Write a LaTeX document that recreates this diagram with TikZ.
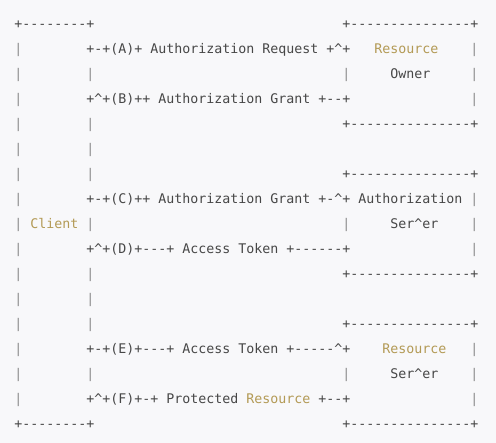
\documentclass[tikz,border=0pt]{standalone}
\usepackage{fontspec}
\newfontfamily\asciimono{DejaVu Sans Mono}
\definecolor{bgc}{HTML}{F8F8FA}
\definecolor{txc}{HTML}{474747}
\definecolor{barc}{HTML}{8C8C8C}
\definecolor{goldc}{HTML}{B39A55}
\newcommand\ca{\textasciicircum}
\tikzset{
  txt/.style={inner sep=0pt, outer sep=0pt, anchor=base west, text=txc, font=\asciimono\fontsize{13.29pt}{16pt}\selectfont},
  bar/.style={txt, text=barc},
  gold/.style={txt, text=goldc}
}
% \seg[style]{name}{col}{row}{text}
\newcommand\seg[5][txt]{\node[#1] (#2) at ({14.3+8*#3},{28.7+25*#4}) {#5};}
\begin{document}
\begin{tikzpicture}[x=1pt,y=-1pt]
\fill[bgc] (0,0) rectangle (496,443);
\useasboundingbox (0,0) rectangle (496,443);
% row 0
\seg{cTop}{0}{0}{+--------+}
\seg{roTop}{41}{0}{+---------------+}
% row 1
\seg[bar]{l1}{0}{1}{|}
\seg{aLine}{9}{1}{+-+(A)+ Authorization Request +\ca+}
\seg[gold]{roName}{45}{1}{Resource}
\seg[bar]{r1}{57}{1}{|}
% row 2
\seg[bar]{l2}{0}{2}{|}
\seg[bar]{m2}{9}{2}{|}
\seg[bar]{n2}{41}{2}{|}
\seg{roOwner}{47}{2}{Owner}
\seg[bar]{r2}{57}{2}{|}
% row 3
\seg[bar]{l3}{0}{3}{|}
\seg{bLine}{9}{3}{+\ca+(B)++ Authorization Grant +--+}
\seg[bar]{r3}{57}{3}{|}
% row 4
\seg[bar]{l4}{0}{4}{|}
\seg[bar]{m4}{9}{4}{|}
\seg{roBot}{41}{4}{+---------------+}
% row 5
\seg[bar]{l5}{0}{5}{|}
\seg[bar]{m5}{9}{5}{|}
% row 6
\seg[bar]{l6}{0}{6}{|}
\seg[bar]{m6}{9}{6}{|}
\seg{asTop}{41}{6}{+---------------+}
% row 7
\seg[bar]{l7}{0}{7}{|}
\seg{cLine}{9}{7}{+-+(C)++ Authorization Grant +-\ca+ Authorization}
\seg[bar]{r7}{57}{7}{|}
% row 8
\seg[bar]{l8}{0}{8}{|}
\seg[gold]{client}{2}{8}{Client}
\seg[bar]{m8}{9}{8}{|}
\seg[bar]{n8}{41}{8}{|}
\seg{asServer}{47}{8}{Ser\ca er}
\seg[bar]{r8}{57}{8}{|}
% row 9
\seg[bar]{l9}{0}{9}{|}
\seg{dLine}{9}{9}{+\ca+(D)+---+ Access Token +------+}
\seg[bar]{r9}{57}{9}{|}
% row 10
\seg[bar]{l10}{0}{10}{|}
\seg[bar]{m10}{9}{10}{|}
\seg{asBot}{41}{10}{+---------------+}
% row 11
\seg[bar]{l11}{0}{11}{|}
\seg[bar]{m11}{9}{11}{|}
% row 12
\seg[bar]{l12}{0}{12}{|}
\seg[bar]{m12}{9}{12}{|}
\seg{rsTop}{41}{12}{+---------------+}
% row 13
\seg[bar]{l13}{0}{13}{|}
\seg{eLine}{9}{13}{+-+(E)+---+ Access Token +-----\ca+}
\seg[gold]{rsName}{46}{13}{Resource}
\seg[bar]{r13}{57}{13}{|}
% row 14
\seg[bar]{l14}{0}{14}{|}
\seg[bar]{m14}{9}{14}{|}
\seg[bar]{n14}{41}{14}{|}
\seg{rsServer}{47}{14}{Ser\ca er}
\seg[bar]{r14}{57}{14}{|}
% row 15
\seg[bar]{l15}{0}{15}{|}
\seg{fLine}{9}{15}{+\ca+(F)+-+ Protected}
\seg[gold]{fRes}{29}{15}{Resource}
\seg{fEnd}{38}{15}{+--+}
\seg[bar]{r15}{57}{15}{|}
% row 16
\seg{cBot}{0}{16}{+--------+}
\seg{rsBot}{41}{16}{+---------------+}
\end{tikzpicture}
\end{document}
